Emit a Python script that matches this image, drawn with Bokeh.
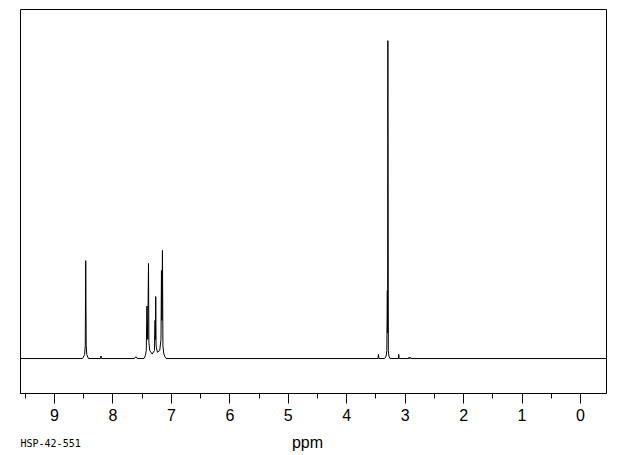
from bokeh.plotting import figure
from bokeh.models import Range1d, SingleIntervalTicker, Label
from bokeh.embed import file_html
from bokeh.resources import INLINE

# Spectrum trace: chemical shift (ppm) and relative intensity
shift_ppm = [9.58, 8.52, 8.485, 8.474, 8.466, 8.458, 8.447, 8.42,
             8.215, 8.205, 8.195,
             7.63, 7.615, 7.60, 7.585,
             7.47, 7.445, 7.43, 7.419, 7.405, 7.392, 7.385, 7.37,
             7.33, 7.29, 7.280, 7.274, 7.268, 7.262, 7.24,
             7.20, 7.178, 7.170, 7.162, 7.153, 7.145, 7.13, 7.11, 7.09,
             3.465, 3.457, 3.449,
             3.35, 3.325, 3.314, 3.305, 3.300, 3.296, 3.288, 3.278, 3.26,
             3.117, 3.110, 3.103,
             2.94, 2.935, 2.925, 2.915, 2.905,
             -0.445]
intensity = [0, 0, 1.2, 4.0, 30.8, 4.0, 1.2, 0,
             0, 0.8, 0,
             0, 0.5, 0.5, 0,
             0, 1.0, 2.5, 16.5, 6.0, 29.9, 5.0, 2.5,
             1.4, 2.5, 12.0, 6.0, 19.5, 4.0, 2.0,
             2.5, 6.0, 27.7, 12.0, 34.0, 4.0, 1.5, 0.5, 0,
             0, 1.3, 0,
             0, 0.8, 2.5, 21.4, 8.0, 100.0, 2.5, 0.8, 0,
             0, 1.3, 0,
             0, 0.4, 0, 0.4, 0,
             0]

x_label = "ppm"
sample_id = "HSP-42-551"

p = figure(width=620, height=455, output_backend="svg", toolbar_location=None,
           x_range=Range1d(9.582, -0.445), y_range=Range1d(-11.0, 109.8),
           min_border_left=20, min_border_right=14, min_border_top=9,
           min_border_bottom=62)
p.yaxis.visible = False
p.grid.visible = False
p.outline_line_color = "black"
p.outline_line_width = 1
p.outline_line_alpha = 1.0
p.background_fill_color = "white"
p.border_fill_color = "white"

p.line(shift_ppm, intensity, color="black", line_width=1)

ax = p.xaxis[0]
ax.ticker = SingleIntervalTicker(interval=1, num_minor_ticks=2)
ax.axis_line_color = "black"
ax.major_tick_line_color = "black"
ax.minor_tick_line_color = "black"
ax.major_tick_out = 10
ax.major_tick_in = 0
ax.minor_tick_out = 5
ax.minor_tick_in = 0
ax.major_label_standoff = 5
ax.major_label_text_font = "Liberation Sans"
ax.major_label_text_font_size = "16px"
ax.major_label_text_color = "black"

p.add_layout(Label(x=287, y=-2, x_units="screen", y_units="screen",
                   text=x_label, text_align="center", text_baseline="middle",
                   text_font="Liberation Sans", text_font_size="16px",
                   text_color="black"), "below")
p.add_layout(Label(x=0, y=8, x_units="screen", y_units="screen",
                   text=sample_id, text_align="left", text_baseline="middle",
                   text_font="DejaVu Sans Mono", text_font_size="10px",
                   text_color="black"), "below")

open("out.html", "w").write(file_html(p, INLINE))
